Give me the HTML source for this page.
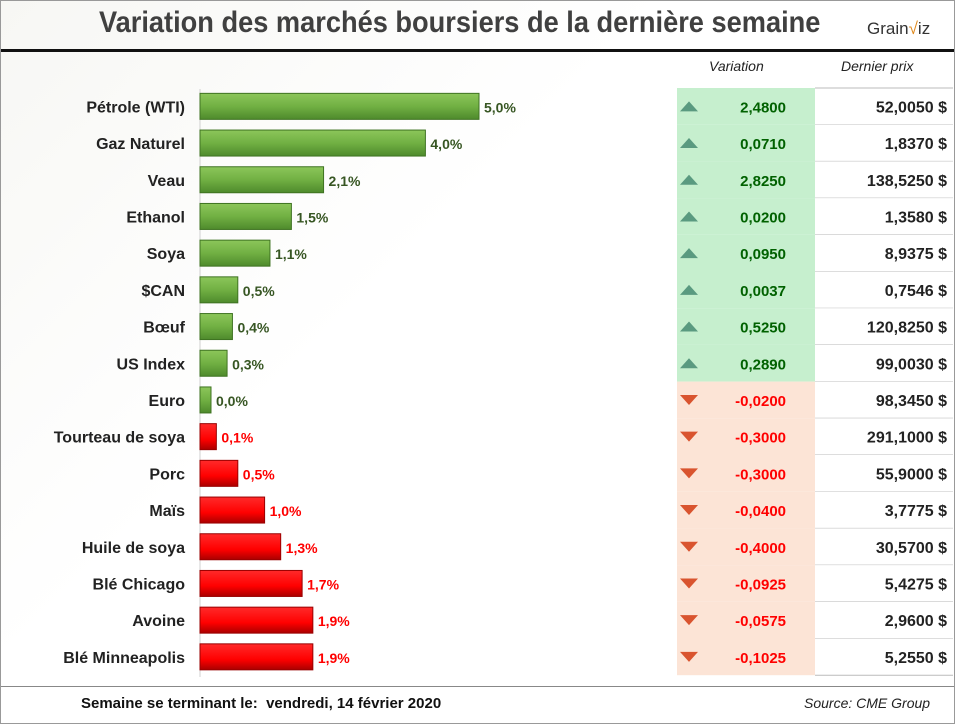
<!DOCTYPE html>
<html><head><meta charset="utf-8"><style>
body{margin:0;background:#fff;font-family:"Liberation Sans","DejaVu Sans",sans-serif;}
#wrap{position:relative;width:953px;height:722px;border:1px solid #999;overflow:hidden;background:linear-gradient(135deg,#f7f7f4 0%,#fff 40%);}
.t{position:absolute;white-space:nowrap;}
</style></head><body>
<div id="wrap">
<div class="t" style="left:98px;top:5px;font-size:30px;font-weight:bold;color:#404040;transform:scaleX(0.907);transform-origin:left;">Variation des marchés boursiers de la dernière semaine</div>
<div class="t" style="left:866px;top:18px;font-size:17px;color:#333;">Grain<span style="color:#e08a1e">√</span>iz</div>
<div style="position:absolute;left:0;top:48px;width:955px;height:3px;background:#111"></div>
<div class="t" style="left:708px;top:57px;font-size:14px;font-style:italic;color:#222">Variation</div>
<div class="t" style="left:840px;top:57px;font-size:14px;font-style:italic;color:#222">Dernier prix</div>
<svg id="chart" width="955" height="724" style="position:absolute;left:0;top:0">
<defs>
<linearGradient id="gg" x1="0" y1="0" x2="0" y2="1"><stop offset="0" stop-color="#8cc65a"/><stop offset="0.5" stop-color="#71b043"/><stop offset="1" stop-color="#4e8a2c"/></linearGradient>
<linearGradient id="rg" x1="0" y1="0" x2="0" y2="1"><stop offset="0" stop-color="#ff2a2a"/><stop offset="0.6" stop-color="#f00"/><stop offset="1" stop-color="#a00"/></linearGradient>
</defs>
</svg>
<div style="position:absolute;left:0;top:685px;width:955px;height:1px;background:#888"></div>
<div class="t" style="left:80px;top:694px;font-size:15px;font-weight:bold;color:#111">Semaine se terminant le:&nbsp; vendredi, 14 février 2020</div>
<div class="t" style="left:803px;top:694px;font-size:14px;font-style:italic;color:#222">Source: CME Group</div>
</div>
<script>
const categories=["Pétrole (WTI)","Gaz Naturel","Veau","Ethanol","Soya","$CAN","Bœuf","US Index","Euro","Tourteau de soya","Porc","Maïs","Huile de soya","Blé Chicago","Avoine","Blé Minneapolis"];
const pctValues=[5.0,4.0,2.1,1.5,1.1,0.5,0.4,0.3,0.0,-0.1,-0.5,-1.0,-1.3,-1.7,-1.9,-1.9];
const variations=["2,4800","0,0710","2,8250","0,0200","0,0950","0,0037","0,5250","0,2890","-0,0200","-0,3000","-0,3000","-0,0400","-0,4000","-0,0925","-0,0575","-0,1025"];
const prices=["52,0050 $","1,8370 $","138,5250 $","1,3580 $","8,9375 $","0,7546 $","120,8250 $","99,0030 $","98,3450 $","291,1000 $","55,9000 $","3,7775 $","30,5700 $","5,4275 $","2,9600 $","5,2550 $"];
const NS="http://www.w3.org/2000/svg";
const svg=document.getElementById('chart');
const x0=199,k=53.6,minW=11,rowTop=87,rowH=36.7;
function xLen(v){return minW+Math.abs(v)*k;}
function yRow(i){return rowTop+i*rowH;}
function mk(t,a){const e=document.createElementNS(NS,t);for(const n in a)e.setAttribute(n,a[n]);svg.appendChild(e);return e;}
const ax=mk('line',{x1:x0,x2:x0,y1:88,y2:676,stroke:'#d0d0d0','stroke-width':1});


categories.forEach((c,i)=>{
  const y=yRow(i),cy=y+rowH/2,v=pctValues[i];
  const green=v>=0;
  const up=variations[i].charAt(0)!=='-';
  const lab=mk('text',{x:184,y:cy+6,'text-anchor':'end','font-size':16,'font-weight':'bold',fill:'#222','font-family':'Liberation Sans, sans-serif'});
  lab.textContent=c;
  
  
  const w=xLen(v);
  const b=mk('rect',{x:x0,y:cy-13,width:w,height:26,fill:green?'url(#gg)':'url(#rg)',stroke:green?'#3f7322':'#900','stroke-width':1});
  
  
  const vl=mk('text',{x:x0+w+5,y:cy+6,'font-size':14,'font-weight':'bold',fill:green?'#375623':'#f00','font-family':'Liberation Sans, sans-serif'});
  vl.textContent=Math.abs(v).toFixed(1).replace('.',',')+'%';
  
  
  const cell=mk('rect',{x:676,y:y,width:138,height:rowH,fill:up?'#c6efce':'#fce4d6'});
  
  
  const pc=mk('rect',{x:814,y:y,width:138,height:rowH,fill:'#fff'});
  
  
  const ln=mk('line',{x1:814,x2:952,y1:y+rowH,y2:y+rowH,stroke:'#bbb','stroke-width':1});
  
  
  const ic=mk('polygon',{points:up?`679,${cy+5} 697,${cy+5} 688,${cy-5}`:`679,${cy-5} 697,${cy-5} 688,${cy+5}`,fill:up?'#5a9a80':'#d9542f'});
  
  
  const vt=mk('text',{x:785,y:cy+6,'text-anchor':'end','font-size':15,'font-weight':'bold',fill:up?'#006100':'#f00','font-family':'Liberation Sans, sans-serif'});
  vt.textContent=variations[i];
  
  
  const pt=mk('text',{x:946,y:cy+6,'text-anchor':'end','font-size':16,'font-weight':'bold',fill:'#222','font-family':'Liberation Sans, sans-serif'});
  pt.textContent=prices[i];
  
  
});
const tb=mk('line',{x1:814,x2:952,y1:rowTop,y2:rowTop,stroke:'#bbb'});


</script>
</body></html>
